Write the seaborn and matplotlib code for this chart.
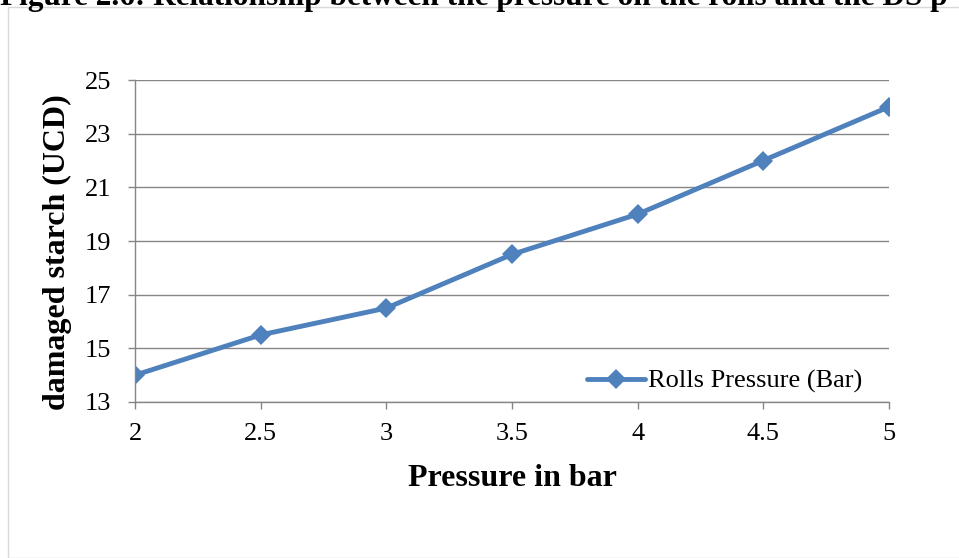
import matplotlib
matplotlib.use("Agg")
import matplotlib.pyplot as plt
import seaborn as sns
import pandas as pd
from matplotlib.patches import Rectangle

pressure = [2, 2.5, 3, 3.5, 4, 4.5, 5]
damaged_starch = [14, 15.5, 16.5, 18.5, 20, 22, 24]
series_name = "Rolls Pressure (Bar)"
y_ticks = [13, 15, 17, 19, 21, 23, 25]
x_ticks = [2, 2.5, 3, 3.5, 4, 4.5, 5]
x_tick_labels = ["2", "2.5", "3", "3.5", "4", "4.5", "5"]

sns.set_theme(style="white")
plt.rcParams['font.family'] = ['Liberation Serif', 'DejaVu Serif']
plt.rcParams['text.color'] = 'black'
plt.rcParams['axes.labelcolor'] = 'black'

df = pd.DataFrame({"x": pressure, "y": damaged_starch, "series": series_name})

fig = plt.figure(figsize=(9.59, 5.58), dpi=100)
ax = fig.add_axes([135/959, 1-402/558, (889-135)/959, (402-80)/558])

# outer chart border
fig.patches.append(Rectangle((8/959, 0), 1, 1-7/558, transform=fig.transFigure,
                             fill=False, edgecolor="#d9d9d9", linewidth=1))

sns.lineplot(data=df, x="x", y="y", hue="series", palette=["#4F81BD"], ax=ax,
             marker="D", markersize=10.5, linewidth=3.5, markeredgewidth=0)

ax.set_xlim(2, 5)
ax.set_ylim(13, 25)
ax.set_yticks(y_ticks)
ax.set_xticks(x_ticks)
ax.set_xticklabels(x_tick_labels)
ax.yaxis.grid(True, color="#868686", linewidth=1)
ax.xaxis.grid(False)
for s in ["top", "right"]:
    ax.spines[s].set_visible(False)
for s in ["left", "bottom"]:
    ax.spines[s].set_color("#868686")
    ax.spines[s].set_linewidth(1)
ax.tick_params(axis="both", which="major", length=5, width=1, color="#868686",
               labelsize=19, labelcolor="black", direction="out")
ax.tick_params(axis="x", pad=10)
ax.tick_params(axis="y", pad=12)
ax.tick_params(bottom=True, left=True)
ax.set_xlabel("Pressure in bar", fontsize=23, fontweight="bold", labelpad=14, color="black")
ax.set_ylabel("damaged starch (UCD)", fontsize=23, fontweight="bold", color="black")
ax.yaxis.set_label_coords(-0.0836, 0.466)

leg = ax.legend(loc="lower right", bbox_to_anchor=(0.996, -0.047), frameon=False,
                fontsize=19, handlelength=2.2, handletextpad=0.1)
leg.set_title(None)
for t in leg.get_texts():
    t.set_color("black")

fig.text(0.0, 1-5/558, "Figure 2.6: Relationship between the pressure on the rolls and the DS p",
         fontsize=22.5, fontweight="bold", va="baseline", ha="left", color="black")

fig.savefig("out.png", dpi=100)
